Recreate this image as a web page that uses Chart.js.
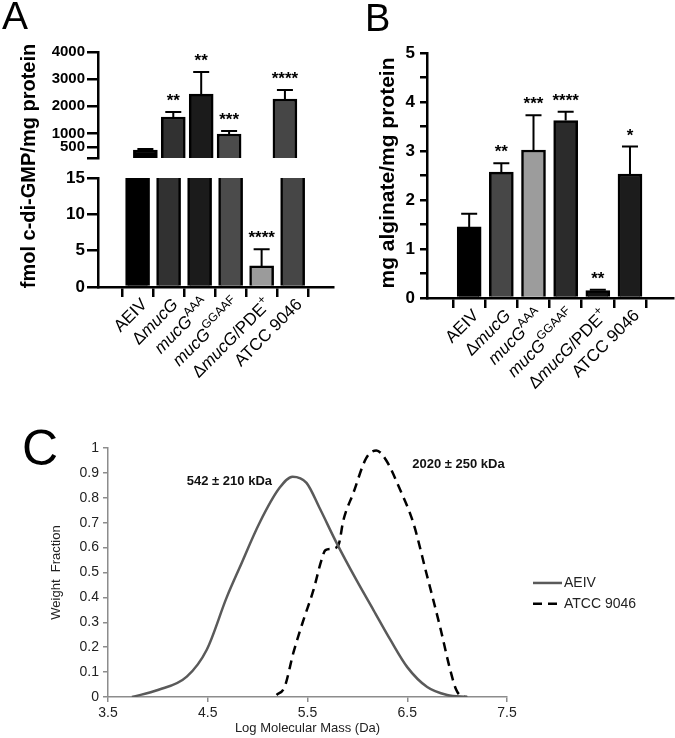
<!DOCTYPE html>
<html>
<head>
<meta charset="utf-8">
<script src="https://cdn.jsdelivr.net/npm/chart.js@4.4.1/dist/chart.umd.min.js"></script>
<style>
  html, body { margin: 0; padding: 0; background: #fff; }
  #page { position: relative; width: 675px; height: 738px; overflow: hidden; }
  canvas { position: absolute; }
</style>
</head>
<body>
<div id="page">
  <canvas id="cdg-low" width="345" height="400" style="left:0;top:0"></canvas>
  <canvas id="cdg-high" width="345" height="170" style="left:0;top:0"></canvas>
  <canvas id="alginate" width="345" height="400" style="left:330px;top:0"></canvas>
  <canvas id="mass" width="675" height="338" style="left:0;top:400px"></canvas>
</div>
<script>
const FONT = '"Liberation Sans", Arial, sans-serif';
Chart.defaults.font.family = FONT;
Chart.defaults.color = '#000';
Chart.defaults.animation = false;
Chart.defaults.responsive = false;
Chart.defaults.plugins.legend.display = false;
Chart.defaults.plugins.tooltip.enabled = false;

// strains: _x_ = italic, ^x = superscript
const strains = ['AEIV', 'Δ_mucG_', '_mucG_^AAA', '_mucG_^GGAAF', 'Δ_mucG_/PDE^+', 'ATCC 9046'];

// panel A - c-di-GMP (fmol / mg protein)
const cdgMean = [390, 1605, 2450, 980, 2.9, 2270];
const cdgSd = [40, 185, 810, 110, 2.3, 330];
const cdgStars = ['', '**', '**', '***', '****', '****'];
const cdgFill = ['#000000', '#313131', '#1b1b1b', '#4b4b4b', '#9b9b9b', '#464646'];
const cdgHighTicks = [95, 500, 1000, 2000, 3000, 4000];
const cdgLowTicks = [0, 5, 10, 15];

// panel B - alginate (mg / mg protein)
const algMean = [1.45, 2.57, 3.02, 3.62, 0.15, 2.53];
const algSd = [0.27, 0.18, 0.71, 0.18, 0.02, 0.56];
const algStars = ['', '**', '***', '****', '**', '*'];
const algFill = ['#000000', '#474747', '#9c9c9c', '#2b2b2b', '#111111', '#1c1c1c'];

// panel C - molecular mass distribution
const massTicksX = [3.5, 4.5, 5.5, 6.5, 7.5];
const aeivLogM = [3.74, 4.0, 4.29, 4.49, 4.69, 4.82, 5.02, 5.22, 5.35, 5.49, 5.62, 5.79, 5.99, 6.16, 6.33, 6.5, 6.7, 6.9, 7.1];
const aeivFrac = [0, 0.028, 0.082, 0.19, 0.40, 0.52, 0.70, 0.84, 0.885, 0.86, 0.76, 0.62, 0.47, 0.35, 0.23, 0.12, 0.04, 0.008, 0];
const atccLogM = [5.19, 5.27, 5.36, 5.46, 5.56, 5.64, 5.68, 5.74, 5.81, 5.86, 5.96, 6.09, 6.19, 6.29, 6.42, 6.56, 6.69, 6.83, 6.93, 6.99, 7.04, 7.1];
const atccFrac = [0.008, 0.04, 0.18, 0.31, 0.43, 0.55, 0.59, 0.595, 0.61, 0.71, 0.82, 0.96, 0.99, 0.95, 0.84, 0.70, 0.50, 0.28, 0.11, 0.03, 0.004, 0];
const massNotes = ['542 ± 210 kDa', '2020 ± 250 kDa'];
const massSeries = ['AEIV', 'ATCC 9046'];

function parseLabel(s) {
    const parts = [];
    const re = /_([^_]+)_|\^(.+)$|([^_^]+)/g;
    let m;
    while ((m = re.exec(s))) {
        if (m[1]) parts.push({ t: m[1], font: `italic 17px ${FONT}`, dy: 0 });
        else if (m[2]) parts.push({ t: m[2], font: `12px ${FONT}`, dy: -6 });
        else parts.push({ t: m[3], font: `17px ${FONT}`, dy: 0 });
    }
    return parts;
}

// rotated strain names under the bars
function strainLabels(topY) {
    return {
        id: 'strainLabels',
        afterDraw(chart) {
            const { ctx, scales: { x } } = chart;
            strains.forEach((s, i) => {
                const parts = parseLabel(s);
                let total = 0;
                parts.forEach(p => { ctx.font = p.font; p.w = ctx.measureText(p.t).width; total += p.w; });
                ctx.save();
                ctx.translate(x.getPixelForValue(i) + 7, topY);
                ctx.rotate(-Math.PI / 4);
                ctx.fillStyle = '#000';
                ctx.textBaseline = 'middle';
                ctx.textAlign = 'left';
                let cx = -total;
                parts.forEach(p => { ctx.font = p.font; ctx.fillText(p.t, cx, p.dy); cx += p.w; });
                ctx.restore();
            });
        }
    };
}

function errorBars(mean, sd, stars) {
    return {
        id: 'errorBars',
        afterDatasetsDraw(chart) {
            const { ctx, scales: { x, y } } = chart;
            ctx.save();
            ctx.strokeStyle = '#000';
            ctx.fillStyle = '#000';
            ctx.lineWidth = 2;
            ctx.font = `bold 17px ${FONT}`;
            ctx.textAlign = 'center';
            ctx.textBaseline = 'bottom';
            mean.forEach((m, i) => {
                const top = m + sd[i];
                if (m < y.min || top > y.max) return;
                const px = x.getPixelForValue(i);
                const pm = y.getPixelForValue(m), pt = y.getPixelForValue(top);
                ctx.beginPath();
                ctx.moveTo(px, pm); ctx.lineTo(px, pt);
                ctx.moveTo(px - 8, pt); ctx.lineTo(px + 8, pt);
                ctx.stroke();
                if (stars[i]) ctx.fillText(stars[i], px, pt - 2);
            });
            ctx.restore();
        }
    };
}

function panelText(letter, lx, ly, lsize, title, tx, ty, tsize) {
    return {
        id: 'panelText',
        afterDraw(chart) {
            const ctx = chart.ctx;
            ctx.save();
            ctx.fillStyle = '#000';
            ctx.font = `${lsize}px ${FONT}`;
            ctx.textAlign = 'left';
            ctx.textBaseline = 'alphabetic';
            ctx.fillText(letter, lx, ly);
            if (title) {
                ctx.translate(tx, ty);
                ctx.rotate(-Math.PI / 2);
                ctx.font = `bold ${tsize}px ${FONT}`;
                ctx.textAlign = 'center';
                ctx.textBaseline = 'middle';
                ctx.fillText(title, 0, 0);
            }
            ctx.restore();
        }
    };
}

const blackGrid = len => ({ drawOnChartArea: false, color: '#000', lineWidth: 2.5, tickLength: len });
const blackBorder = { color: '#000', width: 2.5 };
const barSet = (mean, fill) => ({
    data: mean.map((v, i) => ({ x: i, y: v })),
    backgroundColor: fill,
    borderColor: '#000',
    borderWidth: 2.5,
    barThickness: 24,
    clip: 0
});

// Panel A, lower segment (0-15) + labels
new Chart(document.getElementById('cdg-low'), {
    type: 'bar',
    data: { datasets: [barSet(cdgMean, cdgFill)] },
    options: {
        layout: { padding: { left: 0, top: 178, right: 12, bottom: 0 } },
        scales: {
            x: {
                type: 'linear', min: -0.645, max: 5.67,
                afterBuildTicks: s => { s.ticks = strains.map((_, i) => ({ value: i })); },
                afterFit: s => { s.height = 113; },
                ticks: { display: false },
                grid: blackGrid(10), border: blackBorder
            },
            y: {
                min: 0, max: 15,
                afterBuildTicks: s => { s.ticks = cdgLowTicks.map(v => ({ value: v })); },
                afterFit: s => { s.width = 98; },
                ticks: { font: { size: 17, weight: 'bold' }, color: '#000', padding: 2 },
                grid: blackGrid(11), border: blackBorder
            }
        }
    },
    plugins: [errorBars(cdgMean, cdgSd, cdgStars), strainLabels(302),
        panelText('A', 2, 29, 39, 'fmol c-di-GMP/mg protein', 29, 166, 20)]
});

// Panel A, upper segment
new Chart(document.getElementById('cdg-high'), {
    type: 'bar',
    data: { datasets: [barSet(cdgMean, cdgFill)] },
    options: {
        layout: { padding: { left: 0, top: 52, right: 12, bottom: 12 } },
        scales: {
            x: { type: 'linear', display: false, min: -0.645, max: 5.67 },
            y: {
                min: cdgHighTicks[0], max: 4000,
                afterBuildTicks: s => { s.ticks = cdgHighTicks.map(v => ({ value: v })); },
                afterFit: s => { s.width = 98; },
                ticks: {
                    font: { size: 15, weight: 'bold' }, color: '#000', padding: 2,
                    callback: v => (v === cdgHighTicks[0] ? '' : String(v))
                },
                grid: blackGrid(11), border: blackBorder
            }
        }
    },
    plugins: [errorBars(cdgMean, cdgSd, cdgStars)]
});

// Panel B
new Chart(document.getElementById('alginate'), {
    type: 'bar',
    data: { datasets: [barSet(algMean, algFill)] },
    options: {
        layout: { padding: { left: 0, top: 53, right: 2, bottom: 0 } },
        scales: {
            x: {
                type: 'linear', min: -0.674, max: 5.7,
                afterBuildTicks: s => { s.ticks = strains.map((_, i) => ({ value: i })); },
                afterFit: s => { s.height = 102; },
                ticks: { display: false },
                grid: blackGrid(10), border: blackBorder
            },
            y: {
                min: 0, max: 5,
                ticks: {
                    stepSize: 0.5, font: { size: 17, weight: 'bold' }, color: '#000', padding: 5,
                    callback: v => (Number.isInteger(v) ? String(v) : '')
                },
                afterFit: s => { s.width = 97; },
                grid: blackGrid(7), border: blackBorder
            }
        }
    },
    plugins: [errorBars(algMean, algSd, algStars), strainLabels(313),
        panelText('B', 35, 31, 38, 'mg alginate/mg protein', 58, 173, 21)]
});

// Panel C
new Chart(document.getElementById('mass'), {
    type: 'line',
    data: {
        datasets: [
            {
                label: massSeries[0],
                data: aeivLogM.map((x, i) => ({ x, y: aeivFrac[i] })),
                borderColor: '#5a5a5a', borderWidth: 2.5, pointRadius: 0,
                cubicInterpolationMode: 'monotone'
            },
            {
                label: massSeries[1],
                data: atccLogM.map((x, i) => ({ x, y: atccFrac[i] })),
                borderColor: '#000', borderWidth: 2.5, borderDash: [9, 6], pointRadius: 0,
                cubicInterpolationMode: 'monotone'
            }
        ]
    },
    options: {
        layout: { padding: { left: 40, top: 48, right: 168, bottom: 0 } },
        scales: {
            x: {
                type: 'linear', min: 3.5, max: 7.5,
                afterBuildTicks: s => { s.ticks = massTicksX.map(v => ({ value: v })); },
                afterFit: s => { s.height = 41; },
                ticks: { font: { size: 14 }, color: '#222', padding: 3, callback: v => v.toFixed(1) },
                grid: { drawOnChartArea: false, color: '#8c8c8c', lineWidth: 1.5, tickLength: 5 },
                border: { color: '#8c8c8c', width: 1.5 },
                title: { display: true, text: 'Log Molecular Mass (Da)', font: { size: 13 }, color: '#222', padding: { top: 2, bottom: 2 } }
            },
            y: {
                min: 0, max: 1,
                ticks: { stepSize: 0.1, font: { size: 14 }, color: '#222', padding: 4, callback: v => String(+v.toFixed(1)) },
                afterFit: s => { s.width = 68; },
                grid: { drawOnChartArea: false, color: '#8c8c8c', lineWidth: 1.5, tickLength: 5 },
                border: { color: '#8c8c8c', width: 1.5 },
                title: { display: true, text: 'Weight  Fraction', font: { size: 13 }, color: '#222', padding: { top: 9, bottom: 0 } }
            }
        }
    },
    plugins: [
        panelText('C', 22, 65, 50),
        {
            id: 'massExtras',
            afterDraw(chart) {
                const { ctx, scales: { x, y } } = chart;
                ctx.save();
                ctx.fillStyle = '#111';
                ctx.font = `bold 13px ${FONT}`;
                ctx.textBaseline = 'middle';
                ctx.textAlign = 'left';
                ctx.fillText(massNotes[0], x.getPixelForValue(4.29), y.getPixelForValue(0.867));
                ctx.fillText(massNotes[1], x.getPixelForValue(6.55), y.getPixelForValue(0.936));
                // legend
                const lx = chart.chartArea.right + 26;
                const rows = [y.getPixelForValue(0.458), y.getPixelForValue(0.374)];
                chart.data.datasets.forEach((ds, i) => {
                    ctx.beginPath();
                    ctx.strokeStyle = ds.borderColor;
                    ctx.lineWidth = 2.5;
                    ctx.setLineDash(ds.borderDash || []);
                    ctx.moveTo(lx, rows[i]);
                    ctx.lineTo(lx + (ds.borderDash ? 25 : 29), rows[i]);
                    ctx.stroke();
                    ctx.setLineDash([]);
                    ctx.fillStyle = '#222';
                    ctx.font = `14px ${FONT}`;
                    ctx.fillText(ds.label, lx + 31, rows[i]);
                });
                ctx.restore();
            }
        }
    ]
});
</script>
</body>
</html>
